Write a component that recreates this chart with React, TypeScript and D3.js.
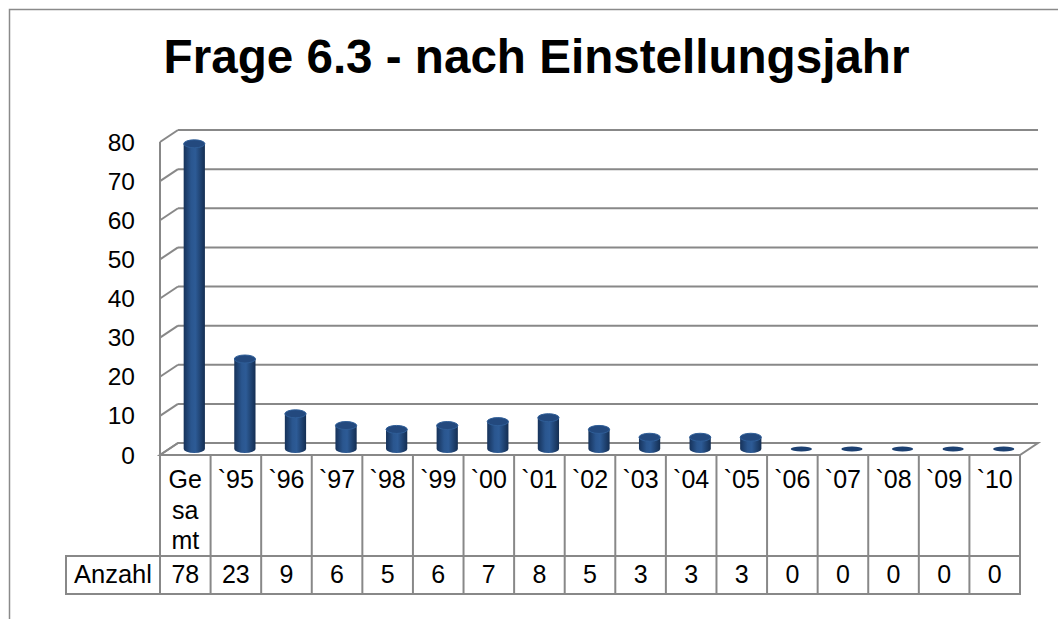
import React from "react";
import * as d3 from "d3";

const categories = ["Gesamt", "`95", "`96", "`97", "`98", "`99", "`00", "`01", "`02", "`03", "`04", "`05", "`06", "`07", "`08", "`09", "`10"];
const anzahl = [78, 23, 9, 6, 5, 6, 7, 8, 5, 3, 3, 3, 0, 0, 0, 0, 0];
const yTicks = [0, 10, 20, 30, 40, 50, 60, 70, 80];
const seriesName = "Anzahl";
const title = "Frage 6.3 - nach Einstellungsjahr";

const W = 1058;
const H = 619;
const font = "'Liberation Sans', Arial, sans-serif";
const gridColor = "#888888";

// 3d offsets of the back wall
const DX = 18;
const DY = -12;

// header labels that are too wide get broken every two letters
function wrapLabel(label: string) {
  if (label.length <= 3) return [label];
  const parts: string[] = [];
  for (let i = 0; i < label.length; i += 2) parts.push(label.slice(i, i + 2));
  return parts;
}

export default function App() {
  const x = d3.scaleBand().domain(categories).range([160, 1020]).padding(0);
  const y = d3.scaleLinear().domain([0, 80]).range([455, 142]);

  const bw = x.bandwidth();
  const barW = bw * 0.42;
  const ry = 4;
  const tableTop = y(0);
  const headerBottom = 556;
  const tableBottom = 594;
  const labelLeft = 66;

  return (
    <svg
      width={W}
      height={H}
      style={{ position: "absolute", left: 0, top: 0, background: "#fff" }}
      fontFamily={font}
    >
      <defs>
        <linearGradient id="cyl" x1="0" x2="1" y1="0" y2="0">
          <stop offset="0%" stopColor="#16325a" />
          <stop offset="35%" stopColor="#2a568f" />
          <stop offset="55%" stopColor="#2d5b96" />
          <stop offset="100%" stopColor="#142e52" />
        </linearGradient>
      </defs>

      {/* outer frame */}
      <rect x={9.5} y={9.5} width={W + 20} height={H + 20} fill="#fff" stroke="#8a8a8a" strokeWidth={1.5} />

      <text x={536.5} y={73} textAnchor="middle" fontSize={47.6} fontWeight="bold" fill="#000">
        {title}
      </text>

      {/* floor */}
      <path
        d={`M${x.range()[0]},${y(0)} L${x.range()[1]},${y(0)} L${x.range()[1] + DX},${y(0) + DY} L${x.range()[0] + DX},${y(0) + DY} Z`}
        fill="#fff"
        stroke={gridColor}
        strokeWidth={2}
      />

      {/* side wall + back gridlines */}
      <line x1={160} x2={160} y1={y(0)} y2={y(80)} stroke={gridColor} strokeWidth={2} />
      {yTicks.map((t) => (
        <g key={t}>
          <line x1={160} y1={y(t)} x2={160 + DX} y2={y(t) + DY} stroke={gridColor} strokeWidth={2} />
          {t > 0 && (
            <line x1={160 + DX} y1={y(t) + DY} x2={1020 + DX} y2={y(t) + DY} stroke={gridColor} strokeWidth={2} />
          )}
          <text x={135} y={y(t)} dy="0.35em" textAnchor="end" fontSize={24.5} fill="#000">
            {t}
          </text>
        </g>
      ))}

      {/* cylinders */}
      {anzahl.map((v, i) => {
        const cx = (x(categories[i]) ?? 0) + bw / 2 + DX / 2;
        const base = y(0) + DY / 2;
        const top = y(v) + DY / 2;
        const l = cx - barW / 2;
        const r = cx + barW / 2;
        if (v === 0) {
          return <ellipse key={i} cx={cx} cy={base} rx={barW / 2} ry={2.5} fill="#1d4172" />;
        }
        return (
          <g key={i}>
            <path
              d={`M${l},${top} L${l},${base} A${barW / 2},${ry} 0 0 0 ${r},${base} L${r},${top} Z`}
              fill="url(#cyl)"
            />
            <ellipse cx={cx} cy={top} rx={barW / 2} ry={ry} fill="#23497e" stroke="#2f5e98" strokeWidth={1} />
          </g>
        );
      })}

      {/* data table */}
      <g stroke={gridColor} strokeWidth={2} fill="none">
        <rect x={160} y={tableTop} width={860} height={tableBottom - tableTop} />
        <rect x={labelLeft} y={headerBottom} width={160 - labelLeft} height={tableBottom - headerBottom} />
        <line x1={160} x2={1020} y1={headerBottom} y2={headerBottom} />
        {categories.slice(1).map((c) => (
          <line key={c} x1={x(c)} x2={x(c)} y1={tableTop} y2={tableBottom} />
        ))}
      </g>
      {categories.map((c, i) => {
        const cx = (x(c) ?? 0) + bw / 2;
        return (
          <g key={c} fontSize={25} textAnchor="middle" fill="#000">
            {wrapLabel(c).map((line, k) => (
              <text key={k} x={cx} y={tableTop + 33 + k * 30.5}>
                {line}
              </text>
            ))}
            <text x={cx} y={583}>
              {anzahl[i]}
            </text>
          </g>
        );
      })}
      <text x={(labelLeft + 160) / 2} y={583} textAnchor="middle" fontSize={25.5} fill="#000">
        {seriesName}
      </text>
    </svg>
  );
}
